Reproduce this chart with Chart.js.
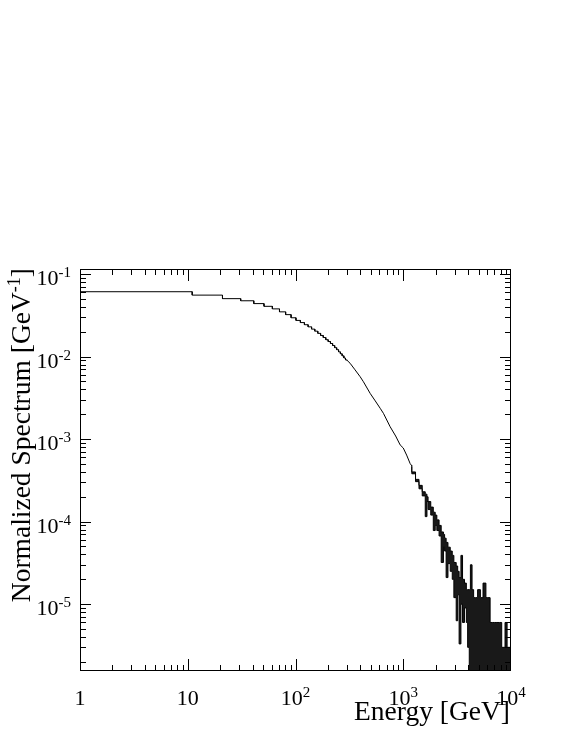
<!DOCTYPE html>
<html>
<head>
<meta charset="utf-8">
<script src="https://cdn.jsdelivr.net/npm/chart.js@4.4.0/dist/chart.umd.min.js"></script>
<style>
  html, body { margin: 0; padding: 0; background: #fff; }
</style>
</head>
<body>
<canvas id="spectrumChart" width="581" height="752"></canvas>
<script>
// Low energy part: 10 GeV wide bins starting at 1 GeV, steps still visible
const lowBinStart = 1;
const lowBinWidth = 10;
const lowBinValues = [
  0.061, 0.0555, 0.0503, 0.0474, 0.0438, 0.0406, 0.0378, 0.0348, 0.0322, 0.0295,
  0.0274, 0.0258, 0.0243, 0.0229, 0.0215, 0.0203, 0.0191, 0.0180, 0.0170, 0.0160,
  0.0152, 0.0144, 0.0136, 0.0128, 0.0121, 0.0114, 0.0108, 0.0102, 0.0096, 0.0091
];

// Above 300 GeV the bins are narrower than a pixel: read as a curve
const curveEnergy = [301, 321, 357, 398, 427, 493, 550, 611, 655, 756, 850, 936, 1000, 1075, 1159, 1200];
const curveValues = [0.0090, 0.0083, 0.0069, 0.0057, 0.00495, 0.00358, 0.0029, 0.00236, 0.00205,
  0.00141, 0.00109, 0.00085, 0.00078, 0.00064, 0.000505, 0.000475];

// Noisy tail: upper and lower edge of the fluctuating bins (0 = empty bins)
const bandEnergy = [1200, 1300, 1400, 1500, 1600, 1660, 1700, 1800, 1900, 1980, 2050, 2150, 2250,
  2360, 2420, 2500, 2600, 2730, 2850, 2950, 3100, 3200, 3300, 3430, 3550, 3700, 3850, 3960,
  4100, 4200, 4350, 4500, 4700, 4900, 5200, 5500, 5850, 6100, 6400, 6700, 7000, 7400, 7800,
  8200, 8800, 9200, 9600, 10000];
const bandUpper = [4.85e-4, 4.0e-4, 3.25e-4, 2.75e-4, 2.3e-4, 2.15e-4, 2.0e-4, 1.75e-4, 1.5e-4, 1.3e-4,
  1.2e-4, 1.05e-4, 9.0e-5, 7.5e-5, 7.0e-5, 6.3e-5, 5.6e-5, 4.9e-5, 4.4e-5, 3.9e-5, 3.2e-5,
  2.9e-5, 2.5e-5, 2.1e-5, 3.9e-5, 2.0e-5, 1.8e-5, 1.5e-5, 1.5e-5, 1.5e-5, 3.0e-5, 1.5e-5,
  1.2e-5, 1.2e-5, 1.5e-5, 1.2e-5, 1.8e-5, 1.2e-5, 1.2e-5, 6e-6, 6e-6, 6e-6, 6e-6, 6e-6,
  3e-6, 6e-6, 3e-6, 3e-6];
const bandLower = [4.65e-4, 3.8e-4, 3.05e-4, 2.5e-4, 2.05e-4, 1.15e-4, 1.75e-4, 1.4e-4, 1.2e-4, 7.8e-5,
  9.0e-5, 7.8e-5, 6.7e-5, 3.2e-5, 5.0e-5, 4.4e-5, 2.1e-5, 3.1e-5, 2.5e-5, 2.0e-5, 1.2e-5,
  6.3e-6, 1.3e-5, 3.3e-6, 1.0e-5, 6e-6, 9e-6, 6e-6, 3e-6, 0, 0, 0, 0, 0, 0, 0, 0, 0, 0, 0,
  0, 0, 0, 0, 0, 0, 0, 0];

// Axis ranges and labels
const xMin = 1, xMax = 10000;
const yMin = 1.55e-6, yMax = 0.115;
const xTickValues = [1, 10, 100, 1000, 10000];
const xTickLabels = [['1', ''], ['10', ''], ['10', '2'], ['10', '3'], ['10', '4']];
const yTickValues = [1e-1, 1e-2, 1e-3, 1e-4, 1e-5];
const yTickLabels = [['10', '-1'], ['10', '-2'], ['10', '-3'], ['10', '-4'], ['10', '-5']];

const FONT = '"Liberation Serif", "Times New Roman", serif';

// histogram outline: explicit bin corners, then the smooth part
const histPoints = [];
lowBinValues.forEach((v, i) => {
  const lo = lowBinStart + i * lowBinWidth;
  histPoints.push({x: lo, y: v}, {x: lo + lowBinWidth, y: v});
});
curveEnergy.forEach((e, i) => histPoints.push({x: e, y: curveValues[i]}));

// empty bins are drawn down to the frame, like ROOT does
const floor = v => (v > 0 ? v : yMin);
const upperPoints = bandEnergy.map((e, i) => ({x: e, y: floor(bandUpper[i])}));
const lowerPoints = bandEnergy.map((e, i) => ({x: e, y: floor(bandLower[i])}));

function drawPower(ctx, base, sup, x, baseline, align) {
  ctx.font = '22px ' + FONT;
  const wb = ctx.measureText(base).width;
  ctx.font = '15px ' + FONT;
  const ws = sup ? ctx.measureText(sup).width : 0;
  const total = wb + ws;
  let start = x;
  if (align === 'center') start = x - total / 2;
  if (align === 'right') start = x - total;
  ctx.textAlign = 'left';
  ctx.textBaseline = 'alphabetic';
  ctx.font = '22px ' + FONT;
  ctx.fillText(base, start, baseline);
  if (sup) {
    ctx.font = '15px ' + FONT;
    ctx.fillText(sup, start + wb, baseline - 8);
  }
}

const rootFrame = {
  id: 'rootFrame',
  afterDraw(chart) {
    const {ctx, chartArea: a} = chart;
    const xs = chart.scales.x, ys = chart.scales.y;
    ctx.save();
    ctx.strokeStyle = '#000';
    ctx.fillStyle = '#000';
    ctx.lineWidth = 1;

    ctx.strokeRect(a.left + 0.5, a.top + 0.5, a.right - a.left - 1, a.bottom - a.top - 1);

    ctx.beginPath();
    // x ticks, bottom and top, pointing inward
    for (let k = 0; k < 4; k++) {
      for (let m = 1; m < 10; m++) {
        const px = Math.round(xs.getPixelForValue(m * Math.pow(10, k))) + 0.5;
        const len = m === 1 ? 12 : 6;
        ctx.moveTo(px, a.bottom);
        ctx.lineTo(px, a.bottom - len);
        ctx.moveTo(px, a.top);
        ctx.lineTo(px, a.top + len);
      }
    }
    // y ticks, left and right
    for (let k = -6; k < 0; k++) {
      for (let m = 1; m < 10; m++) {
        const v = m * Math.pow(10, k);
        if (v < yMin || v > yMax) continue;
        const py = Math.round(ys.getPixelForValue(v)) + 0.5;
        const len = m === 1 ? 11 : 6;
        ctx.moveTo(a.left, py);
        ctx.lineTo(a.left + len, py);
        ctx.moveTo(a.right, py);
        ctx.lineTo(a.right - len, py);
      }
    }
    ctx.stroke();

    xTickValues.forEach((v, i) => {
      drawPower(ctx, xTickLabels[i][0], xTickLabels[i][1], xs.getPixelForValue(v), a.bottom + 34, 'center');
    });
    yTickValues.forEach((v, i) => {
      drawPower(ctx, yTickLabels[i][0], yTickLabels[i][1], 71, ys.getPixelForValue(v) + 11, 'right');
    });

    // axis titles
    ctx.font = '27.5px ' + FONT;
    ctx.textAlign = 'right';
    ctx.textBaseline = 'alphabetic';
    ctx.fillText('Energy [GeV]', 510, 720);

    ctx.translate(30, a.top - 1);
    ctx.rotate(-Math.PI / 2);
    const main = 'Normalized Spectrum [GeV';
    const sup = '-1';
    const close = ']';
    ctx.font = '27.5px ' + FONT;
    const wMain = ctx.measureText(main).width;
    const wClose = ctx.measureText(close).width;
    ctx.font = '18px ' + FONT;
    const wSup = ctx.measureText(sup).width;
    const start = -(wMain + wSup + wClose);
    ctx.textAlign = 'left';
    ctx.font = '27.5px ' + FONT;
    ctx.fillText(main, start, 0);
    ctx.fillText(close, start + wMain + wSup, 0);
    ctx.font = '18px ' + FONT;
    ctx.fillText(sup, start + wMain, -10);
    ctx.restore();
  }
};

new Chart(document.getElementById('spectrumChart').getContext('2d'), {
  type: 'line',
  data: {
    datasets: [
      {
        label: 'spectrum',
        data: histPoints,
        borderColor: '#000',
        borderWidth: 1,
        pointRadius: 0,
        fill: false,
        tension: 0
      },
      {
        label: 'tail upper',
        data: upperPoints,
        borderColor: '#000',
        borderWidth: 1,
        backgroundColor: 'rgba(0, 0, 0, 0.9)',
        pointRadius: 0,
        stepped: 'after',
        fill: '+1'
      },
      {
        label: 'tail lower',
        data: lowerPoints,
        borderColor: '#000',
        borderWidth: 1,
        pointRadius: 0,
        stepped: 'after',
        fill: false
      }
    ]
  },
  options: {
    responsive: false,
    animation: false,
    layout: {
      padding: {left: 80, right: 70, top: 269, bottom: 81}
    },
    plugins: {
      legend: {display: false},
      tooltip: {enabled: false}
    },
    scales: {
      x: {type: 'logarithmic', min: xMin, max: xMax, display: false},
      y: {type: 'logarithmic', min: yMin, max: yMax, display: false}
    }
  },
  plugins: [rootFrame]
});
</script>
</body>
</html>
